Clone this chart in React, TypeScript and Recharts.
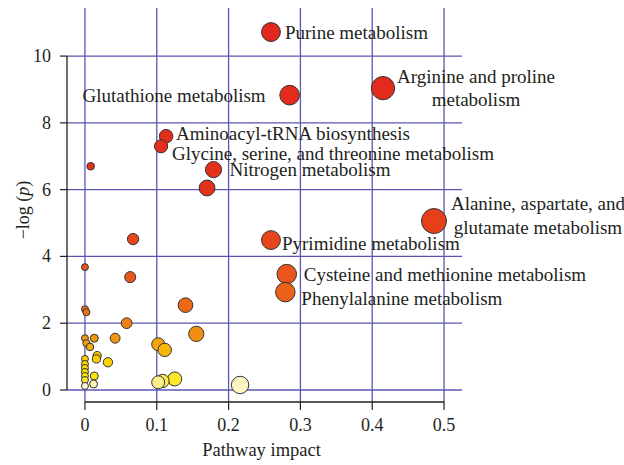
import React from "react";
import {
  ScatterChart, Scatter, XAxis, YAxis, ZAxis, CartesianGrid,
  ReferenceLine, Cell, Label
} from "recharts";

// pathway names ("" = not labelled), "\n" splits a label onto two lines
const pathwayNames = [
  "Purine metabolism",
  "Glutathione metabolism",
  "Arginine and proline\nmetabolism",
  "Aminoacyl-tRNA biosynthesis",
  "Glycine, serine, and threonine metabolism",
  "",
  "Nitrogen metabolism",
  "",
  "Alanine, aspartate, and\nglutamate metabolism",
  "",
  "Pyrimidine metabolism",
  "",
  "Cysteine and methionine metabolism",
  "",
  "Phenylalanine metabolism",
  "", "", "", "", "", "", "", "", "", "", "", "", "", "", "",
  "", "", "", "", "", "", "", "", "", "", "", "", "",
];

const impactValues = [
  0.259, 0.285, 0.415, 0.113, 0.106, 0.008, 0.179, 0.170, 0.486, 0.067,
  0.259, 0.0, 0.281, 0.063, 0.279, 0.140, 0.0, 0.002, 0.058, 0.155,
  0.042, 0.013, 0.0, 0.002, 0.007, 0.102, 0.111, 0.017, 0.016, 0.032,
  0.0, 0.0, 0.0, 0.0, 0.0, 0.013, 0.0, 0.012, 0.125, 0.108,
  0.102, 0.216, 0.0,
];

const negLogP = [
  10.72, 8.83, 9.04, 7.6, 7.3, 6.7, 6.6, 6.05, 5.06, 4.52,
  4.49, 3.68, 3.47, 3.38, 2.93, 2.54, 2.42, 2.33, 2.0, 1.68,
  1.55, 1.55, 1.55, 1.4, 1.29, 1.37, 1.2, 1.03, 0.93, 0.83,
  0.93, 0.78, 0.66, 0.54, 0.42, 0.42, 0.3, 0.18, 0.33, 0.27,
  0.23, 0.15, 0.12,
];

const xTicks = [0, 0.1, 0.2, 0.3, 0.4, 0.5];
const yTicks = [0, 2, 4, 6, 8, 10];
const xDomain: [number, number] = [-0.025, 0.525];
const yDomain: [number, number] = [-0.36, 11.44];

const data = pathwayNames.map((name, i) => ({
  name,
  impact: impactValues[i],
  logp: negLogP[i],
}));

const FONT = "'Liberation Serif', 'DejaVu Serif', serif";
const INK = "#231f20";
const GRID = "#5b56b4";

// heat colour scale on -log(p)
const heatStops: [number, string][] = [
  [0.1, "#fffbe2"], [0.17, "#fdf3b6"], [0.23, "#fbee8a"], [0.29, "#fde83a"],
  [0.45, "#ffe600"], [0.8, "#fcd400"], [1.0, "#f9c408"], [1.3, "#f6ac0c"],
  [1.55, "#f2960f"], [2.0, "#ef7e15"], [2.5, "#ec6a18"], [3.5, "#e9541a"],
  [4.5, "#e6461b"], [6, "#e3321c"], [11, "#e2261c"],
];

function hex(c: string) {
  return [1, 3, 5].map(i => parseInt(c.slice(i, i + 2), 16));
}

function heat(v: number): string {
  if (v <= heatStops[0][0]) return heatStops[0][1];
  for (let i = 1; i < heatStops.length; i++) {
    const [v1, c1] = heatStops[i];
    if (v <= v1) {
      const [v0, c0] = heatStops[i - 1];
      const t = (v - v0) / (v1 - v0);
      const a = hex(c0), b = hex(c1);
      const m = a.map((x, k) => Math.round(x + (b[k] - x) * t));
      return `rgb(${m[0]},${m[1]},${m[2]})`;
    }
  }
  return heatStops[heatStops.length - 1][1];
}

// grid only at the tick values (no lines on the plot edges)
function gridX({ offset }: any) {
  return xTicks.map(t => offset.left + (offset.width * (t - xDomain[0])) / (xDomain[1] - xDomain[0]));
}
function gridY({ offset }: any) {
  return yTicks.map(t => offset.top + (offset.height * (yDomain[1] - t)) / (yDomain[1] - yDomain[0]));
}

// where each label sits relative to its circle
const labelPlace: Record<string, { dx: number; dy: number[]; anchor: "start" | "middle" | "end" }> = {
  "Purine metabolism": { dx: 14, dy: [0], anchor: "start" },
  "Glutathione metabolism": { dx: -24, dy: [0], anchor: "end" },
  "Arginine and proline\nmetabolism": { dx: 93, dy: [-12, 11], anchor: "middle" },
  "Aminoacyl-tRNA biosynthesis": { dx: 10, dy: [-3], anchor: "start" },
  "Glycine, serine, and threonine metabolism": { dx: 11, dy: [7], anchor: "start" },
  "Nitrogen metabolism": { dx: 16, dy: [0], anchor: "start" },
  "Alanine, aspartate, and\nglutamate metabolism": { dx: 104, dy: [-18, 6], anchor: "middle" },
  "Pyrimidine metabolism": { dx: 11, dy: [3], anchor: "start" },
  "Cysteine and methionine metabolism": { dx: 17, dy: [0], anchor: "start" },
  "Phenylalanine metabolism": { dx: 16, dy: [6], anchor: "start" },
};

function PathwayLabel(props: any) {
  const { cx, cy, payload } = props;
  const name: string = payload?.name ?? "";
  const place = labelPlace[name];
  if (!name || !place) return <g />;
  const lines = name.split("\n");
  return (
    <g>
      {lines.map((ln, i) => (
        <text key={i} x={cx + place.dx} y={cy + place.dy[i]} textAnchor={place.anchor}
          dominantBaseline="central" fontFamily={FONT} fontSize={19} fill={INK}>
          {ln}
        </text>
      ))}
    </g>
  );
}

function XTick({ x, y, payload }: any) {
  return (
    <g>
      <line x1={x} x2={x} y1={y} y2={y + 8} stroke={INK} strokeWidth={1.2} />
      <text x={x} y={y + 23} textAnchor="middle" dominantBaseline="central"
        fontFamily={FONT} fontSize={18} fill={INK}>
        {payload.value}
      </text>
    </g>
  );
}

function YTick({ x, y, payload }: any) {
  return (
    <g>
      <line x1={x - 7} x2={x} y1={y} y2={y} stroke={INK} strokeWidth={1.2} />
      <text x={x - 16} y={y} textAnchor="end" dominantBaseline="central"
        fontFamily={FONT} fontSize={18} fill={INK}>
        {payload.value}
      </text>
    </g>
  );
}

function XTitle({ viewBox }: any) {
  return (
    <text x={viewBox.x + viewBox.width / 2 - 3} y={viewBox.y + 48} textAnchor="middle"
      dominantBaseline="central" fontFamily={FONT} fontSize={18.5} fill={INK}>
      Pathway impact
    </text>
  );
}

function YTitle({ viewBox }: any) {
  const cx = viewBox.x + 23;
  const cy = viewBox.y + viewBox.height / 2 + 5;
  return (
    <text x={cx} y={cy} transform={`rotate(-90 ${cx} ${cy})`} textAnchor="middle"
      dominantBaseline="central" fontFamily={FONT} fontSize={18} fill={INK}>
      −log (<tspan fontStyle="italic">p</tspan>)
    </text>
  );
}

export default function App() {
  return (
    <div style={{ position: "absolute", left: 0, top: 0, width: 624, height: 465, background: "#fff" }}>
      <ScatterChart width={624} height={465} margin={{ top: 8, right: 162, bottom: 0, left: 0 }}>
        <CartesianGrid
          stroke={GRID} strokeWidth={1.3}
          verticalCoordinatesGenerator={gridX}
          horizontalCoordinatesGenerator={gridY}
        />
        <XAxis
          type="number" dataKey="impact" domain={xDomain} ticks={xTicks}
          axisLine={false} tickLine={false} tickSize={0} tickMargin={0}
          height={63} tick={<XTick />}
        >
          <Label content={<XTitle />} />
        </XAxis>
        <YAxis
          type="number" dataKey="logp" domain={yDomain} ticks={yTicks}
          axisLine={false} tickLine={false} tickSize={0} tickMargin={0}
          width={67} tick={<YTick />}
        >
          <Label content={<YTitle />} />
        </YAxis>
        <ZAxis type="number" dataKey="impact" domain={[0, 0.5]} range={[38, 504]} />
        <ReferenceLine segment={[{ x: 0, y: yDomain[0] }, { x: 0.5, y: yDomain[0] }]}
          stroke={INK} strokeWidth={1.3} ifOverflow="visible" />
        <ReferenceLine segment={[{ x: xDomain[0], y: 0 }, { x: xDomain[0], y: 10 }]}
          stroke={INK} strokeWidth={1.3} ifOverflow="visible" />
        <Scatter data={data} stroke="#333" strokeWidth={1} isAnimationActive={false}>
          {data.map((d, i) => <Cell key={i} fill={heat(d.logp)} />)}
        </Scatter>
        <Scatter data={data} shape={<PathwayLabel />} isAnimationActive={false} />
      </ScatterChart>
    </div>
  );
}
